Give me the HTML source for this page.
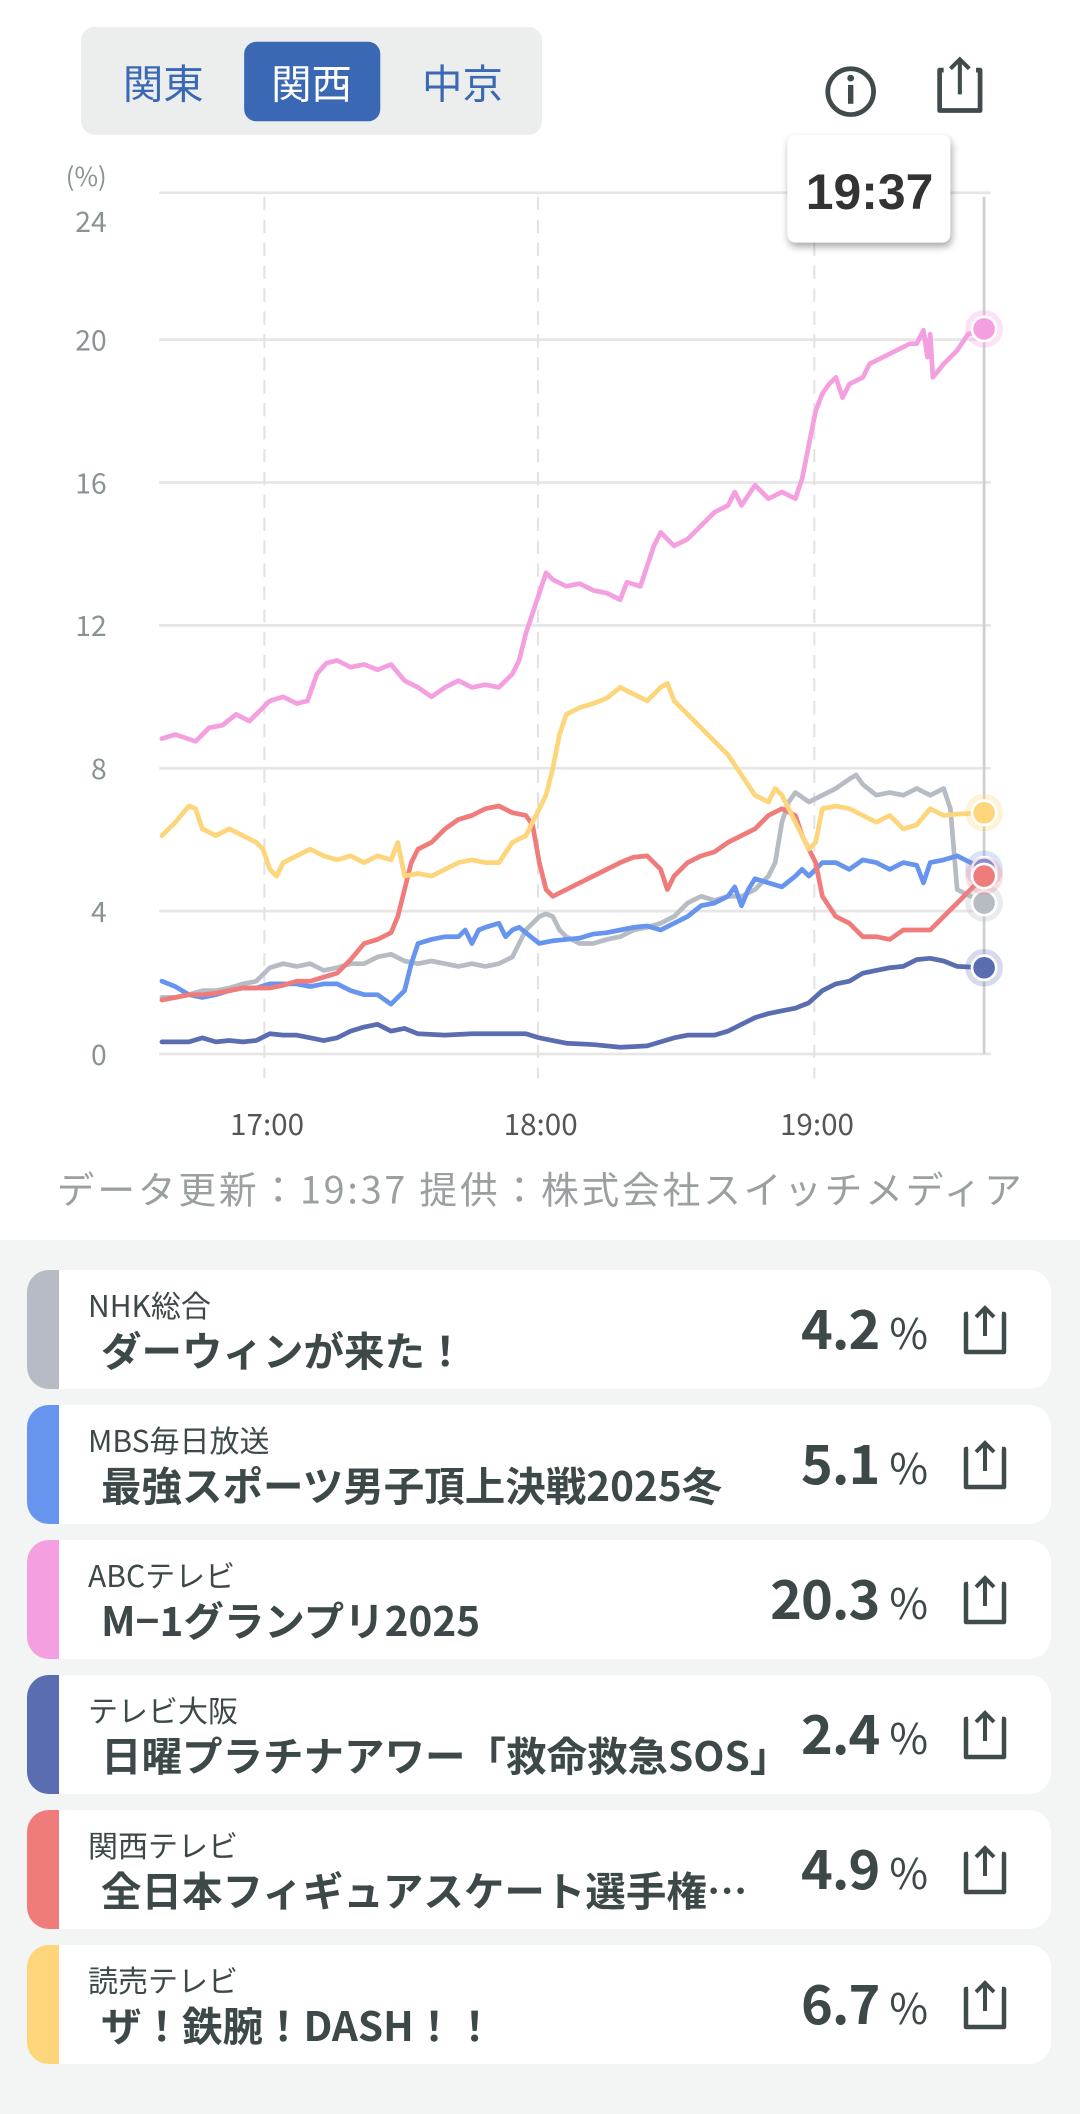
<!DOCTYPE html>
<html><head><meta charset="utf-8">
<style>
body{margin:0;width:1080px;height:2114px;background:#fff;overflow:hidden;font-family:"Noto Sans CJK JP","Liberation Sans",sans-serif}
#top{position:absolute;left:0;top:0;width:1080px;height:1240px}
#list{position:absolute;left:0;top:1240px;width:1080px;height:874px;background:#f3f4f4}
.card{position:absolute;left:27px;width:1024px;height:119px;background:#fff;border-radius:22px;overflow:hidden}
.stripe{position:absolute;left:0;top:0;width:32px;height:100%}
.ch{position:absolute;left:61px;top:14px;font-size:30px;color:#3d4848;line-height:40px}
.ti{position:absolute;left:74px;top:53px;font-size:40.5px;font-weight:bold;color:#3d4848;white-space:nowrap;line-height:52px}
.pc{position:absolute;right:124px;top:20px;font-size:54px;font-weight:bold;color:#3d4848;line-height:72px;letter-spacing:-1px}
.pc span{font-size:42px;font-weight:normal;margin-left:10px}
.sh{position:absolute;left:931px;top:34px}
</style></head><body>
<div id="top">
<svg width="1080" height="1240" viewBox="0 0 801 920" xmlns="http://www.w3.org/2000/svg" font-family="Noto Sans CJK JP, Liberation Sans, sans-serif">
<defs><filter id="sd" x="-30%" y="-30%" width="160%" height="160%"><feGaussianBlur stdDeviation="3"/></filter></defs>
<rect x="60" y="20" width="342" height="80" rx="10" fill="#eceeee"/>
<rect x="181" y="31" width="101" height="59" rx="9" fill="#3a68b4"/>
<text x="121" y="73" font-size="30" fill="#3a68b4" text-anchor="middle">関東</text>
<text x="231" y="73" font-size="30" fill="#fff" text-anchor="middle">関西</text>
<text x="343" y="73" font-size="30" fill="#3a68b4" text-anchor="middle">中京</text>
<circle cx="631" cy="68" r="17" fill="none" stroke="#404c4c" stroke-width="3.5"/>
<circle cx="631" cy="58" r="2.5" fill="#404c4c"/><rect x="629" y="63" width="4" height="14" fill="#404c4c"/>
<path d="M700 52 h-3 v30 h30 v-30 h-3" fill="none" stroke="#404c4c" stroke-width="3.5" stroke-linejoin="round"/>
<path d="M712 70 v-26 M705 51 l7 -7 l7 7" fill="none" stroke="#404c4c" stroke-width="3"/>
<text x="79" y="138" font-size="19" fill="#8a9393" text-anchor="end">(%)</text>
<g stroke="#e6e6e6" stroke-width="2">
<line x1="118" y1="143" x2="735" y2="143"/><line x1="118" y1="252" x2="735" y2="252"/><line x1="118" y1="358" x2="735" y2="358"/><line x1="118" y1="464" x2="735" y2="464"/><line x1="118" y1="570" x2="735" y2="570"/><line x1="118" y1="676" x2="735" y2="676"/><line x1="118" y1="782" x2="735" y2="782"/>
</g>
<g stroke="#e2e2e2" stroke-width="1.5" stroke-dasharray="10 7">
<line x1="196" y1="146" x2="196" y2="800"/><line x1="399" y1="146" x2="399" y2="800"/><line x1="604" y1="146" x2="604" y2="800"/>
</g>
<line x1="730" y1="146" x2="730" y2="782" stroke="#cfcfcf" stroke-width="2"/>
<g font-size="21" fill="#8a9393" text-anchor="end">
<text x="79" y="172">24</text><text x="79" y="260">20</text><text x="79" y="366">16</text><text x="79" y="472">12</text><text x="79" y="578">8</text><text x="79" y="684">4</text><text x="79" y="790">0</text>
</g>
<g font-size="22" fill="#555" text-anchor="middle">
<text x="198" y="842">17:00</text><text x="401" y="842">18:00</text><text x="606" y="842">19:00</text>
</g>
<text x="400" y="893" font-size="28" fill="#9a9f9f" text-anchor="middle" textLength="716">データ更新：19:37 提供：株式会社スイッチメディア</text>
<g fill="none" stroke-width="3.5" stroke-linejoin="round" stroke-linecap="round">
<polyline stroke="#5a6db0" points="120,773 140,773 150,770 160,773 170,772 180,773 190,772 200,767 210,768 220,768 230,770 240,772 250,770 260,765 270,762 280,760 290,765 300,763 310,767 330,768 350,767 370,767 390,767 400,770 410,772 420,774 440,775 460,777 480,776 490,773 500,770 510,768 520,768 530,768 540,765 550,760 560,755 570,752 580,750 590,748 600,744 610,735 620,730 630,728 640,722 650,720 660,718 670,717 680,712 690,711 700,713 710,717 730,718"/>
<polyline stroke="#b7bcc4" points="120,740 130,740 140,738 150,735 160,735 170,733 180,730 190,728 200,718 210,715 220,717 230,715 240,720 250,718 260,715 270,715 280,710 290,708 300,713 310,715 320,713 330,715 340,717 350,715 360,717 370,715 380,710 390,690 400,680 405,678 410,680 415,690 420,695 430,700 440,700 450,697 460,695 470,690 480,688 490,685 500,680 510,670 520,665 530,668 540,665 550,665 560,660 570,650 575,640 580,610 585,595 590,588 600,595 610,590 620,585 630,578 635,575 640,582 650,590 660,588 670,590 680,585 690,590 700,585 705,600 710,660 720,665 730,670"/>
<polyline stroke="#6694ee" points="120,728 130,732 140,738 150,740 160,738 170,735 180,733 190,733 200,730 210,730 220,730 230,732 240,730 250,730 260,735 270,738 280,738 290,745 295,740 300,735 305,715 310,700 320,697 330,695 340,695 345,690 350,700 355,690 360,688 370,685 375,695 380,690 385,688 390,692 400,700 410,698 420,697 430,696 440,693 450,692 460,690 470,688 480,687 490,690 500,685 510,680 520,672 530,670 540,665 545,658 550,672 555,660 560,652 570,655 580,658 590,650 595,645 600,650 605,645 610,640 620,640 630,645 640,638 650,640 660,645 670,640 680,642 685,655 690,640 700,638 710,635 730,645"/>
<polyline stroke="#f07b7b" points="120,742 130,740 140,738 150,738 160,737 170,735 180,733 190,733 200,733 210,731 220,728 230,728 240,725 250,722 260,712 270,700 280,697 290,692 295,680 300,660 305,640 310,630 320,625 330,615 340,608 350,605 360,600 370,598 380,603 390,605 395,612 400,640 405,660 410,665 420,660 430,655 440,650 450,645 460,640 470,636 480,635 490,645 495,660 500,650 510,640 520,635 530,632 540,625 550,620 560,615 570,605 580,600 590,605 595,620 600,630 605,640 610,665 620,680 630,685 640,695 650,695 660,697 670,690 680,690 690,690 700,680 710,670 730,650"/>
<polyline stroke="#fdd57a" points="120,620 130,610 140,598 145,600 150,615 160,620 170,615 180,620 190,625 195,630 200,645 205,650 210,640 220,635 230,630 240,635 250,638 260,635 270,640 280,635 290,638 295,625 300,650 310,648 320,650 330,645 340,640 350,638 360,640 370,640 380,625 390,620 395,610 400,600 405,590 410,570 415,545 420,530 430,525 440,522 450,518 460,510 470,515 480,520 490,510 495,507 500,520 510,530 520,540 530,550 540,560 550,575 560,590 570,595 575,585 580,590 590,610 600,630 605,625 610,600 620,598 630,600 640,605 650,610 660,605 670,615 680,612 690,600 700,605 710,604 730,603"/>
<polyline stroke="#f4a0e0" points="120,548 130,545 145,550 155,540 165,538 175,530 185,535 195,525 200,520 210,517 220,522 228,520 235,500 242,492 250,490 260,495 270,493 280,497 290,493 300,505 310,510 320,517 330,510 340,505 350,510 360,508 370,510 380,500 385,490 390,470 395,455 400,440 405,425 410,430 420,435 430,433 440,438 450,440 460,445 465,432 475,435 480,420 485,405 490,395 500,405 510,400 520,390 530,380 540,375 545,365 550,375 560,360 570,370 580,365 590,370 595,355 600,330 605,305 610,292 615,285 620,280 625,295 630,285 640,280 645,270 655,265 665,260 675,255 680,255 685,245 688,265 690,248 692,280 700,270 710,260 718,248 730,244"/>
</g>
<g stroke="#fff" stroke-width="2">
<circle cx="730" cy="718" r="14" fill="#5a6db0" fill-opacity="0.25" stroke="none"/><circle cx="730" cy="718" r="9" fill="#5a6db0"/>
<circle cx="730" cy="670" r="14" fill="#b7bcc4" fill-opacity="0.3" stroke="none"/><circle cx="730" cy="670" r="9" fill="#b7bcc4"/>
<circle cx="730" cy="645" r="14" fill="#6694ee" fill-opacity="0.25" stroke="none"/><circle cx="730" cy="645" r="9" fill="#6694ee"/>
<circle cx="730" cy="650" r="14" fill="#f07b7b" fill-opacity="0.25" stroke="none"/><circle cx="730" cy="650" r="9" fill="#f07b7b"/>
<circle cx="730" cy="603" r="14" fill="#fdd57a" fill-opacity="0.3" stroke="none"/><circle cx="730" cy="603" r="9" fill="#fdd57a"/>
<circle cx="730" cy="244" r="14" fill="#f4a0e0" fill-opacity="0.3" stroke="none"/><circle cx="730" cy="244" r="9" fill="#f4a0e0"/>
</g>
<rect x="585" y="103" width="121" height="80" rx="6" fill="#000" opacity="0.35" filter="url(#sd)"/>
<rect x="584" y="100" width="121" height="80" rx="6" fill="#fff"/>
<text x="645" y="155" font-size="37" font-weight="bold" fill="#333" text-anchor="middle" font-family="Liberation Sans, sans-serif">19:37</text>
</svg>
</div>
<div id="list">
<div class="card" style="top:30px"><div class="stripe" style="background:#b7bcc4"></div><div class="ch">NHK総合</div><div class="ti">ダーウィンが来た！</div><div class="pc">4.2<span>%</span></div><svg class="sh" width="54" height="54" viewBox="0 0 54 54"><path d="M10 10 h-2 v38 h38 v-38 h-2" fill="none" stroke="#404c4c" stroke-width="4.5" stroke-linejoin="round"/><path d="M27 32 v-28 M18 13 l9 -9 l9 9" fill="none" stroke="#404c4c" stroke-width="4"/></svg></div>
<div class="card" style="top:165px"><div class="stripe" style="background:#6694ee"></div><div class="ch">MBS毎日放送</div><div class="ti">最強スポーツ男子頂上決戦2025冬</div><div class="pc">5.1<span>%</span></div><svg class="sh" width="54" height="54" viewBox="0 0 54 54"><path d="M10 10 h-2 v38 h38 v-38 h-2" fill="none" stroke="#404c4c" stroke-width="4.5" stroke-linejoin="round"/><path d="M27 32 v-28 M18 13 l9 -9 l9 9" fill="none" stroke="#404c4c" stroke-width="4"/></svg></div>
<div class="card" style="top:300px"><div class="stripe" style="background:#f4a0e0"></div><div class="ch">ABCテレビ</div><div class="ti">M−1グランプリ2025</div><div class="pc">20.3<span>%</span></div><svg class="sh" width="54" height="54" viewBox="0 0 54 54"><path d="M10 10 h-2 v38 h38 v-38 h-2" fill="none" stroke="#404c4c" stroke-width="4.5" stroke-linejoin="round"/><path d="M27 32 v-28 M18 13 l9 -9 l9 9" fill="none" stroke="#404c4c" stroke-width="4"/></svg></div>
<div class="card" style="top:435px"><div class="stripe" style="background:#5a6db0"></div><div class="ch">テレビ大阪</div><div class="ti">日曜プラチナアワー「救命救急SOS」</div><div class="pc">2.4<span>%</span></div><svg class="sh" width="54" height="54" viewBox="0 0 54 54"><path d="M10 10 h-2 v38 h38 v-38 h-2" fill="none" stroke="#404c4c" stroke-width="4.5" stroke-linejoin="round"/><path d="M27 32 v-28 M18 13 l9 -9 l9 9" fill="none" stroke="#404c4c" stroke-width="4"/></svg></div>
<div class="card" style="top:570px"><div class="stripe" style="background:#f07b7b"></div><div class="ch">関西テレビ</div><div class="ti">全日本フィギュアスケート選手権…</div><div class="pc">4.9<span>%</span></div><svg class="sh" width="54" height="54" viewBox="0 0 54 54"><path d="M10 10 h-2 v38 h38 v-38 h-2" fill="none" stroke="#404c4c" stroke-width="4.5" stroke-linejoin="round"/><path d="M27 32 v-28 M18 13 l9 -9 l9 9" fill="none" stroke="#404c4c" stroke-width="4"/></svg></div>
<div class="card" style="top:705px"><div class="stripe" style="background:#fdd57a"></div><div class="ch">読売テレビ</div><div class="ti">ザ！鉄腕！DASH！！</div><div class="pc">6.7<span>%</span></div><svg class="sh" width="54" height="54" viewBox="0 0 54 54"><path d="M10 10 h-2 v38 h38 v-38 h-2" fill="none" stroke="#404c4c" stroke-width="4.5" stroke-linejoin="round"/><path d="M27 32 v-28 M18 13 l9 -9 l9 9" fill="none" stroke="#404c4c" stroke-width="4"/></svg></div>
</div>
</body></html>
